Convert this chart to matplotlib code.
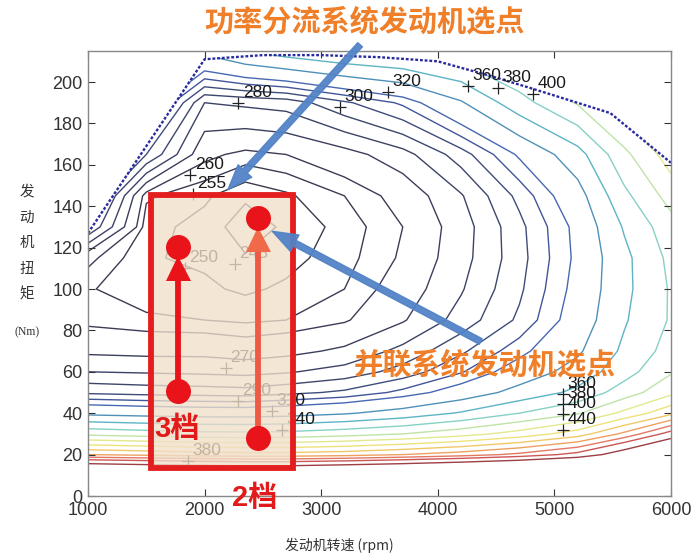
import numpy as np
import matplotlib
matplotlib.use('Agg')
import matplotlib.pyplot as plt
from matplotlib.patches import Rectangle, Polygon, FancyArrowPatch

plt.rcParams['font.family'] = ['Liberation Sans', 'Noto Sans CJK SC', 'DejaVu Sans']

# ---------------- data ----------------
speed = np.array([1000, 1500, 2000, 2350, 2700, 3200, 3700, 4200, 4700, 5200, 5600, 6000])
torque = np.array([0, 10, 20, 30, 40, 50, 60, 70, 85, 100, 115, 130, 145, 165, 190, 215])
# BSFC (g/kWh), rows = torque, cols = speed
bsfc = np.array([
    [900, 890, 880, 880, 880, 890, 900, 915, 935, 960, 990, 1020],
    [640, 630, 625, 620, 620, 630, 640, 655, 670, 695, 725, 760],
    [480, 475, 470, 468, 468, 472, 480, 490, 505, 528, 570, 620],
    [395, 390, 386, 385, 386, 392, 400, 412, 428, 450, 485, 530],
    [335, 332, 330, 330, 332, 338, 348, 362, 380, 398, 425, 455],
    [298, 296, 295, 294, 297, 302, 313, 328, 347, 365, 390, 415],
    [280, 279, 278, 277, 279, 284, 294, 309, 328, 348, 372, 398],
    [268, 267, 267, 265, 267, 272, 283, 298, 316, 337, 364, 388],
    [258, 256, 255, 254, 255, 259, 269, 284, 302, 328, 358, 382],
    [255.5, 252, 251, 249, 251, 255, 264, 279, 298, 325, 355, 382],
    [262, 250.5, 249, 245.5, 248, 253, 261, 276, 296, 323, 355, 385],
    [300, 252, 248, 242, 246, 252, 260, 275, 297, 324, 362, 392],
    [320, 256, 251, 246, 249, 255, 263, 279, 303, 332, 375, 408],
    [330, 300, 262, 258, 260, 266, 276, 295, 322, 352, 395, 430],
    [345, 335, 280, 282, 284, 298, 312, 338, 372, 402, 432, 462],
    [360, 350, 345, 360, 370, 380, 385, 392, 410, 440, 470, 500],
])
levels = [245, 250, 255, 260, 270, 280, 290, 300, 310, 320, 340, 360, 380, 400,
          420, 440, 460, 480, 500, 520, 550]
level_colors = ['#3a3a48', '#3a3a4c', '#3a3b50', '#3b3c55', '#3b3e5c', '#3c4264',
                '#3d466c', '#3f4c7a', '#41559a', '#4768b2', '#4f90b8', '#5cb4c4',
                '#86d0c6', '#bfe3a8', '#e2e98c', '#eee27a', '#f0c868', '#eea060',
                '#e27864', '#cc5656', '#9c3e44']

# full-load torque curve
fl_speed = [1000, 2000, 2500, 3000, 3500, 4000, 4450, 4800, 5480, 6000]
fl_torque = [127, 211, 213, 213, 212, 210, 203, 197, 185, 161]

# contour labels
label_text = ['280', '300', '320', '360', '380', '400', '260', '255', '250', '245',
              '270', '290', '310', '340', '380', '360', '380', '400', '440']
label_speed = [2290, 3160, 3570, 4260, 4516, 4817, 1875, 1900, 1830, 2260,
               2183, 2286, 2578, 2664, 1858, 5074, 5074, 5074, 5074]
label_torque = [190, 188, 195, 198, 197, 194, 155, 146, 110, 112,
                62, 46, 41, 32, 17, 49.3, 44.5, 39.6, 32]

# engine operating points of the parallel system (gear, speed, torque range)
gear_names = ['3档', '2档']
gear_speed = [1772, 2458]
gear_torque_low = [50.7, 28]
gear_torque_high = [120.3, 134.3]

# ---------------- figure ----------------
fig = plt.figure(figsize=(6.96, 5.59), dpi=100)
ax = fig.add_axes([0.1264, 0.1127, 0.8376, 0.7961])

cs = ax.contour(speed, torque, bsfc, levels=levels, colors=level_colors,
                linewidths=1.0, zorder=1)
clip = Polygon(list(zip(fl_speed, fl_torque)) + [(6000, 0), (1000, 0)],
               closed=True, transform=ax.transData, facecolor='none', edgecolor='none')
ax.add_patch(clip)
cs.set_clip_path(clip)

ax.plot(fl_speed, fl_torque, color='#2a2aa0', lw=1.7, linestyle=(0, (1.2, 0.8)), zorder=2)

for t, x, y in zip(label_text, label_speed, label_torque):
    ax.plot(x, y, marker='+', color='#222222', ms=8, mew=0.9, zorder=2)
    ax.text(x + 40, y + 1.5, t, fontsize=12.5, color='#1a1a1a', ha='left', va='bottom', zorder=2)

ax.set_xlim(1000, 6000)
ax.set_ylim(0, 215)
ax.set_xticks([1000, 2000, 3000, 4000, 5000, 6000])
ax.set_yticks(range(0, 201, 20))
ax.tick_params(direction='in', top=True, right=True, length=5, width=0.8,
               colors='#333333', labelsize=13, pad=4)
for s in ax.spines.values():
    s.set_color('#888888')
    s.set_linewidth(1.0)

# red selection box
box = Rectangle((1540, 13.5), 1220, 132, facecolor='#f1dfca', alpha=0.78,
                edgecolor='none', zorder=3, clip_on=False)
ax.add_patch(box)
ax.add_patch(Rectangle((1540, 13.5), 1220, 132, facecolor='none', edgecolor='#e41e1e',
                       lw=4.2, zorder=6, clip_on=False))

line_cols = ['#e8141a', '#ee5a44']
head_cols = ['#e8141a', '#f06a4a']
for i in range(2):
    x = gear_speed[i]
    lo = gear_torque_low[i]
    hi = gear_torque_high[i]
    ax.plot([x, x], [lo, hi - 16], color=line_cols[i], lw=4.2, zorder=4, solid_capstyle='butt')
    ax.plot(x, hi - 10, marker='^', ms=18, color=head_cols[i], mew=0, zorder=5)
    ax.plot([x, x], [lo, hi], linestyle='none', marker='o', ms=18, color='#e8141a', mew=0, zorder=5)

ax.text(1763, 32.5, gear_names[0], fontsize=21, fontweight='bold', color='#e21a1a',
        ha='center', va='center', zorder=7)
ax.text(2432, -1, gear_names[1], fontsize=21, fontweight='bold', color='#e21a1a',
        ha='center', va='center', zorder=7, clip_on=False)

# blue arrows
arrow_kw = dict(arrowstyle='simple,head_length=1.3,head_width=0.95,tail_width=0.32',
                mutation_scale=14, color='#5283c6', alpha=0.95, zorder=8, clip_on=False)
ax.add_patch(FancyArrowPatch((3350, 219), (2184, 147), **arrow_kw))
ax.add_patch(FancyArrowPatch((4390, 74), (2560, 128.5), **arrow_kw))

# orange captions
fig.text(0.524, 0.962, '功率分流系统发动机选点', fontsize=21, fontweight='bold',
         color='#f07f2a', ha='center', va='center', family=['Noto Sans CJK SC'])
ax.text(4405, 63.8, '并联系统发动机选点', fontsize=21, fontweight='bold',
        color='#f07f2a', ha='center', va='center', family=['Noto Sans CJK SC'], zorder=8)

# axis labels
for k, ch in enumerate('发动机扭矩'):
    fig.text(27 / 696, 1 - (192 + 25.5 * k) / 559, ch, fontsize=10.5, color='#333333',
             ha='center', va='center', family=['Noto Sans CJK SC'])
fig.text(27 / 696, 1 - 332 / 559, '(Nm)', fontsize=8.5, color='#333333',
         ha='center', va='center', family=['Liberation Serif'])
fig.text(339 / 696, 1 - 545 / 559, '发动机转速 (rpm)', fontsize=10, color='#333333',
         ha='center', va='center', family=['Noto Sans CJK SC', 'DejaVu Sans'])

fig.savefig('out.png', dpi=100, facecolor='white')
